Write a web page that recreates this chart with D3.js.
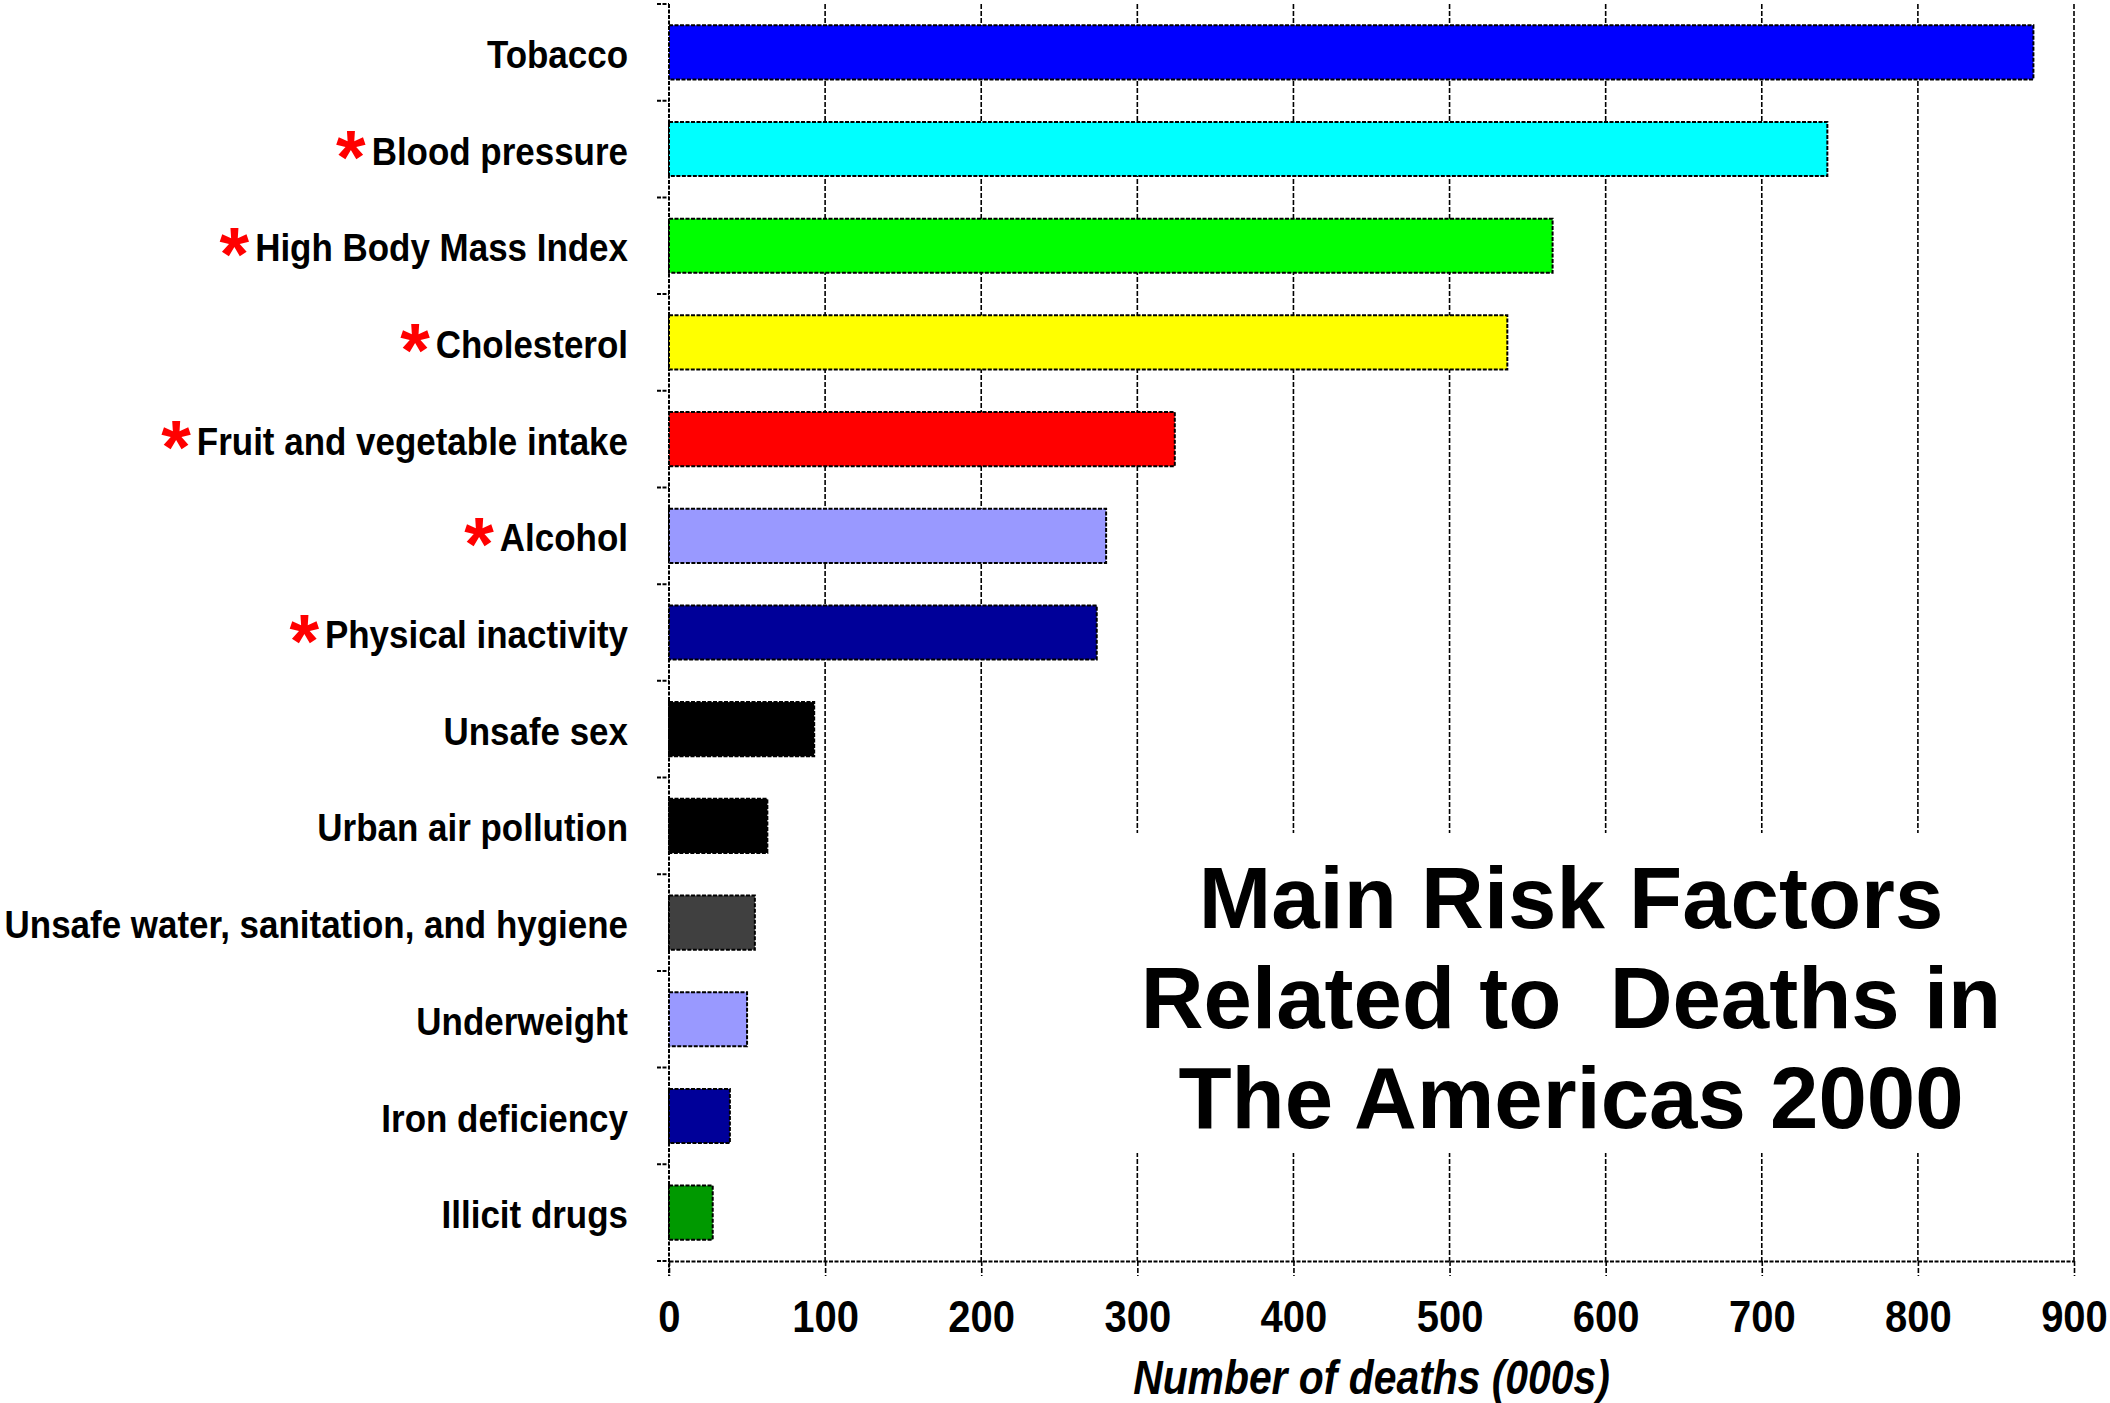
<!DOCTYPE html>
<html>
<head>
<meta charset="utf-8">
<script src="https://cdn.jsdelivr.net/npm/d3@7"></script>
<style>
body { margin: 0; background: #fff; }
text { font-family: "Liberation Sans", Arial, Helvetica, sans-serif; font-weight: bold; }
</style>
</head>
<body>
<div id="visuals"></div>
<script>
/* global d3 */
var width = 2110;
var height = 1403;

var categories = ["Tobacco", "Blood pressure", "High Body Mass Index", "Cholesterol",
	"Fruit and vegetable intake", "Alcohol", "Physical inactivity", "Unsafe sex",
	"Urban air pollution", "Unsafe water, sanitation, and hygiene", "Underweight",
	"Iron deficiency", "Illicit drugs"];
var deaths = [874, 742, 566, 537, 324, 280, 274, 93, 63, 55, 50, 39, 28];
var starred = [false, true, true, true, true, true, true, false, false, false, false, false, false];
var xTicks = [0, 100, 200, 300, 400, 500, 600, 700, 800, 900];
var titleLines = ["Main Risk Factors", "Related to  Deaths in", "The Americas 2000"];
var xTitle = "Number of deaths (000s)";

var barColors = ["#0000ff", "#00ffff", "#00ff00", "#ffff00", "#ff0000", "#9999ff", "#000099",
	"#000000", "#000000", "#404040", "#9999ff", "#000099", "#009900"];

function draw_chart() {
	var plotLeft = 669, plotRight = 2074, plotTop = 4, plotBottom = 1261;

	var svg = d3.select("#visuals").append("svg")
		.attr("width", width)
		.attr("height", height);

	var x = d3.scaleLinear().domain([0, 900]).range([plotLeft, plotRight]);
	var y = d3.scaleBand().domain(categories).range([plotTop, plotBottom])
		.paddingInner(0.44).paddingOuter(0.22);

	// vertical grid
	svg.append("g").selectAll("line")
		.data(xTicks.slice(1))
		.enter().append("line")
		.attr("x1", d => x(d)).attr("x2", d => x(d))
		.attr("y1", plotTop).attr("y2", plotBottom)
		.attr("stroke", "#000")
		.attr("stroke-width", 1.6)
		.attr("stroke-dasharray", "5,2");

	// white box behind the title
	svg.append("rect")
		.attr("x", 1110).attr("y", 833)
		.attr("width", 920).attr("height", 320)
		.attr("fill", "#fff");

	// x axis
	var xAxis = svg.append("g")
		.attr("transform", "translate(0," + plotBottom + ")")
		.call(d3.axisBottom(x).tickValues(xTicks).tickSize(15).tickSizeOuter(0).tickPadding(20));
	xAxis.select(".domain")
		.attr("stroke", "#000").attr("stroke-width", 2).attr("stroke-dasharray", "4,1.5");
	xAxis.selectAll(".tick line")
		.attr("stroke", "#000").attr("stroke-width", 1.6).attr("stroke-dasharray", "5,2");
	xAxis.selectAll(".tick text")
		.attr("fill", "#000")
		.attr("transform", "scale(1,1.12)")
		.style("font-size", "40px")
		.style("font-family", "'Liberation Sans', Arial, sans-serif")
		.style("font-weight", "bold");

	// y axis line and ticks between categories
	svg.append("line")
		.attr("x1", plotLeft).attr("x2", plotLeft)
		.attr("y1", plotTop).attr("y2", plotBottom + 15)
		.attr("stroke", "#000").attr("stroke-width", 2).attr("stroke-dasharray", "4,1.5");

	var gap = (y.step() - y.bandwidth()) / 2;
	var bounds = categories.map(c => y(c) - gap);
	bounds.push(y(categories[categories.length - 1]) + y.bandwidth() + gap);

	svg.append("g").selectAll("line")
		.data(bounds)
		.enter().append("line")
		.attr("x1", plotLeft - 12).attr("x2", plotLeft)
		.attr("y1", d => d).attr("y2", d => d)
		.attr("stroke", "#000").attr("stroke-width", 2).attr("stroke-dasharray", "4,1.5");

	// bars
	svg.append("g").selectAll("rect")
		.data(categories)
		.enter().append("rect")
		.attr("x", x(0))
		.attr("y", d => y(d))
		.attr("width", (d, i) => x(deaths[i]) - x(0))
		.attr("height", y.bandwidth())
		.attr("fill", (d, i) => barColors[i])
		.attr("stroke", "#000")
		.attr("stroke-width", 2)
		.attr("stroke-dasharray", "4,1.5");

	// category labels, a bit condensed
	var labelScale = 0.92;
	var labels = svg.append("g").selectAll("g")
		.data(categories)
		.enter().append("g")
		.attr("transform", d => "translate(628," + (y(d) + y.bandwidth() / 2) + ")");

	labels.append("text")
		.attr("text-anchor", "end")
		.attr("transform", "scale(" + labelScale + ",1)")
		.attr("dy", "0.41em")
		.style("font-size", "38px")
		.attr("fill", "#000")
		.text(d => d);

	labels.each(function(d, i) {
		if (!starred[i]) return;
		var w = d3.select(this).select("text").node().getComputedTextLength() * labelScale;
		d3.select(this).append("text")
			.attr("x", -w - 6)
			.attr("y", 34)
			.attr("text-anchor", "end")
			.style("font-size", "76px")
			.attr("fill", "#ff0000")
			.text("*");
	});

	// title
	svg.append("g").selectAll("text")
		.data(titleLines)
		.enter().append("text")
		.attr("x", 1571)
		.attr("y", (d, i) => 928 + i * 100)
		.attr("text-anchor", "middle")
		.style("font-size", "87px")
		.style("white-space", "pre")
		.attr("fill", "#000")
		.text(d => d);

	// x axis title
	svg.append("text")
		.attr("transform", "translate(" + ((plotLeft + plotRight) / 2) + ",1394) scale(0.95,1.1)")
		.attr("text-anchor", "middle")
		.style("font-size", "43px")
		.style("font-style", "italic")
		.attr("fill", "#000")
		.text(xTitle);
}

draw_chart();
</script>
</body>
</html>
